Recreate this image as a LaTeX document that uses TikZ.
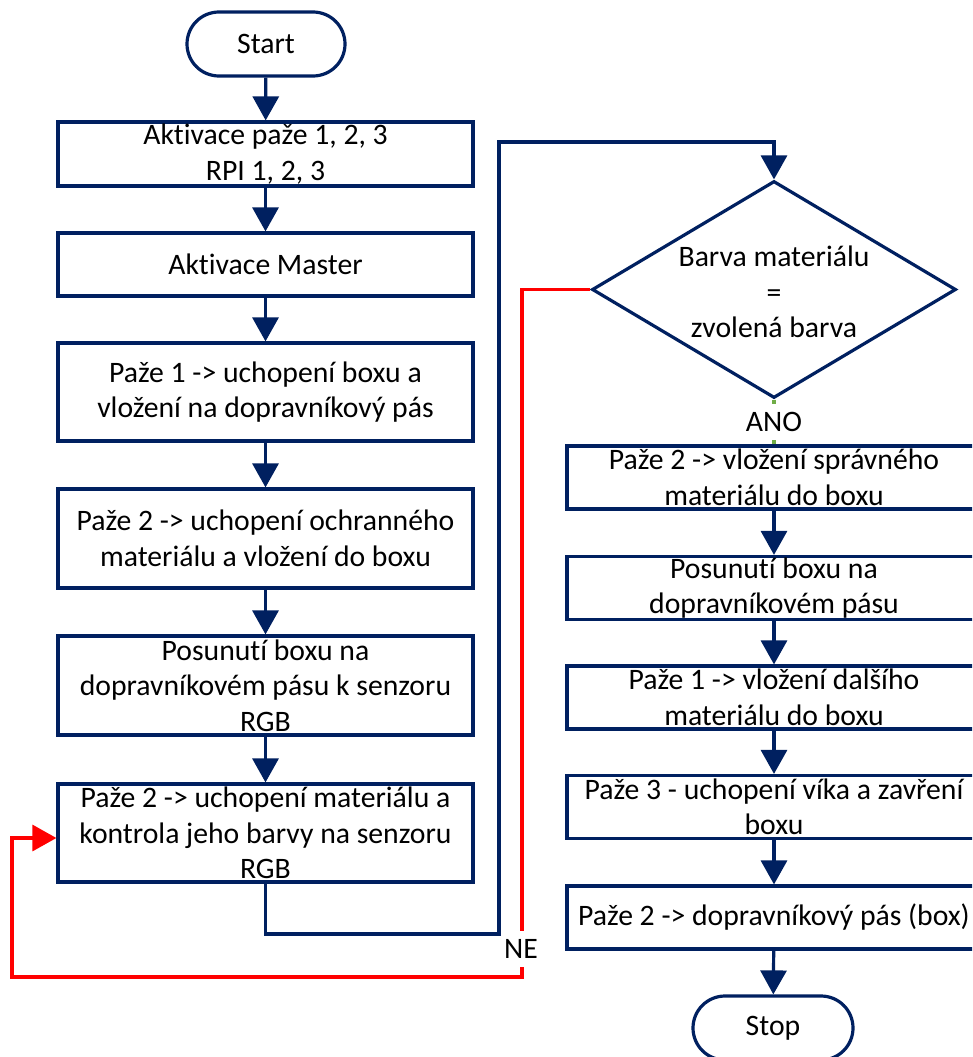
\documentclass[tikz,border=0pt]{standalone}
\usepackage{fontspec}
\setmainfont{Carlito}[Ligatures={NoCommon}]
\usetikzlibrary{shapes.geometric,arrows.meta}
\definecolor{navy}{HTML}{002060}
\definecolor{okgreen}{HTML}{70AD47}
\definecolor{nored}{HTML}{FF0000}
\tikzset{
  every node/.style={font=\fontsize{29.7}{35.5}\selectfont, text=black},
  procbox/.style={draw=navy, line width=3.2pt, rectangle, minimum width=415pt, align=center, inner sep=0pt, fill=white},
  termbox/.style={draw=navy, line width=3.2pt, rectangle, rounded corners=32pt, minimum width=158pt, minimum height=64pt, inner sep=0pt, fill=white},
  decbox/.style={draw=navy, line width=3.2pt, diamond, minimum width=364pt, minimum height=217pt, inner sep=0pt},
  flow/.style={draw=navy, line width=3.2pt, -{Triangle[length=24pt,width=26pt]}},
  noflow/.style={draw=nored, line width=3.2pt, -{Triangle[length=24pt,width=26pt]}},
  yesflow/.style={draw=okgreen, line width=3.2pt},
  lbl/.style={fill=white, inner xsep=2pt, inner ysep=0pt, minimum height=36pt}
}
\begin{document}
\begin{tikzpicture}[x=1pt,y=-1pt]
\useasboundingbox (0,0) rectangle (972,1057);
\clip (0,0) rectangle (972,1057);
\fill[white] (0,0) rectangle (972,1057);
% left column
\node[termbox] (start) at (266,44) {Start};
\node[procbox, minimum height=64pt] (b1) at (265.5,154) {Aktivace paže 1, 2, 3\\RPI 1, 2, 3};
\node[procbox, minimum height=63pt] (b2) at (265.5,264.5) {Aktivace Master};
\node[procbox, minimum height=98pt] (b3) at (265.5,392) {Paže 1 -> uchopení boxu a\\vložení na dopravníkový pás};
\node[procbox, minimum height=99pt] (b4) at (265.5,538.5) {Paže 2 -> uchopení ochranného\\materiálu a vložení do boxu};
\node[procbox, minimum height=99pt] (b5) at (265.5,685.5) {Posunutí boxu na\\dopravníkovém pásu k senzoru\\RGB};
\node[procbox, minimum height=98pt] (b6) at (265.5,833) {Paže 2 -> uchopení materiálu a\\kontrola jeho barvy na senzoru\\RGB};
% right column
\node[decbox] (d) at (774,289.5) {};
\node[align=center, inner sep=0pt] (dtext) at (774,292) {Barva materiálu\\=\\zvolená barva};
\node[procbox, minimum width=414pt, minimum height=63pt] (b7) at (774,477.5) {Paže 2 -> vložení správného\\materiálu do boxu};
\node[procbox, minimum width=414pt, minimum height=63pt] (b8) at (774,588) {Posunutí boxu na\\dopravníkovém pásu};
\node[procbox, minimum width=414pt, minimum height=63pt] (b9) at (774,697.5) {Paže 1 -> vložení dalšího\\materiálu do boxu};
\node[procbox, minimum width=414pt, minimum height=63pt] (b10) at (774,807) {Paže 3 - uchopení víka a zavření\\boxu};
\node[procbox, minimum width=414pt, minimum height=63pt] (b11) at (774,917.5) {Paže 2 -> dopravníkový pás (box)};
\node[termbox, minimum width=160pt] (stop) at (773,1028) {Stop};
% waypoints
\coordinate (c1) at (499,934);
\coordinate (c2) at (499,142);
\coordinate (r1) at (522,977);
\coordinate (r2) at (12,977);
% connectors
\draw[flow] (start) -- (b1);
\draw[flow] (b1) -- (b2);
\draw[flow] (b2) -- (b3);
\draw[flow] (b3) -- (b4);
\draw[flow] (b4) -- (b5);
\draw[flow] (b5) -- (b6);
\draw[flow] (b6.south) |- (c1) -- (c2) -| (d.north);
\draw[noflow] (d.west) -| (r1) -- (r2) |- ([yshift=-5pt]b6.west);
\draw[yesflow] (d.south) -- (b7.north);
\draw[flow] (b7) -- (b8);
\draw[flow] (b8) -- (b9);
\draw[flow] (b9) -- (b10);
\draw[flow] (b10) -- (b11);
\draw[flow] (b11) -- (stop);
% labels
\node[lbl] (ano) at (774,422) {ANO};
\node[lbl] (ne) at (521,949) {NE};
\end{tikzpicture}
\end{document}
